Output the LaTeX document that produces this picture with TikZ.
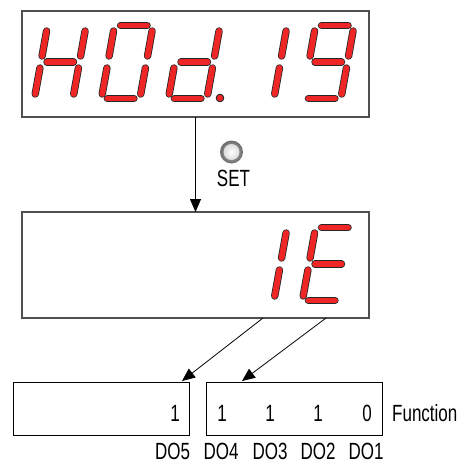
\documentclass[tikz,border=0pt]{standalone}
\usepackage{graphicx}
\usepackage{fontspec}
\setmainfont{Liberation Sans}
\usetikzlibrary{arrows.meta}
\definecolor{segred}{RGB}{238,38,38}
\definecolor{boxgray}{RGB}{80,80,80}
\newcommand\tx[1]{\scalebox{1}[1.38]{#1}}
\newcommand\sgl[2]{\draw[segout] #1 -- #2; \draw[segin] #1 -- #2;}
% segments: X = left column x at middle line, Y = middle line y
\newcommand\sgA[2]{\sgl{(#1+12.57,#2-36.5)}{(#1+39.07,#2-36.5)}}
\newcommand\sgG[2]{\sgl{(#1+6,#2)}{(#1+32.5,#2)}}
\newcommand\sgD[2]{\sgl{(#1-0.57,#2+36.5)}{(#1+25.93,#2+36.5)}}
\newcommand\sgF[2]{\sgl{(#1+5.58,#2-31)}{(#1+1.08,#2-6)}}
\newcommand\sgE[2]{\sgl{(#1-1.08,#2+6)}{(#1-5.76,#2+32)}}
\newcommand\sgB[2]{\sgl{(#1+44.08,#2-31)}{(#1+39.58,#2-6)}}
\newcommand\sgC[2]{\sgl{(#1+37.42,#2+6)}{(#1+32.74,#2+32)}}
\begin{document}
\begin{tikzpicture}[x=1pt,y=-1pt,
  segout/.style={line width=7.4pt,line cap=round,draw=black!85},
  segin/.style={line width=5.8pt,line cap=round,draw=segred},
  display/.style={draw=boxgray,line width=1.1pt,inner sep=0pt,outer sep=0pt,minimum width=347pt,minimum height=106pt},
  bitbox/.style={draw=black,line width=0.8pt,inner sep=0pt,outer sep=0pt,minimum width=176pt,minimum height=53pt},
  lbl/.style={inner sep=0pt,font=\fontsize{17}{20}\selectfont},
  arr/.style={-{Triangle[width=11pt,length=13pt]},line width=0.8pt}]
\useasboundingbox (0,0) rectangle (465,466);
% boxes
\node[display] (top) at (195.5,64) {};
\node[display] (mid) at (195.5,265) {};
\node[bitbox] (bl) at (101,408.5) {};
\node[bitbox] (br) at (294,408.5) {};
% top display: H 0 d. 1 9
\sgB{41}{62}\sgC{41}{62}\sgE{41}{62}\sgF{41}{62}\sgG{41}{62}
\sgA{108}{62}\sgB{108}{62}\sgC{108}{62}\sgD{108}{62}\sgE{108}{62}\sgF{108}{62}
\sgB{175}{62}\sgC{175}{62}\sgD{175}{62}\sgE{175}{62}\sgG{175}{62}
\filldraw[fill=segred,draw=black!85,line width=0.9pt] (220,98) circle (3.8pt);
\sgB{242}{62}\sgC{242}{62}
\sgA{309}{62}\sgB{309}{62}\sgC{309}{62}\sgD{309}{62}\sgF{309}{62}\sgG{309}{62}
% middle display: 1E
\sgB{242}{264}\sgC{242}{264}
\sgA{309}{264}\sgD{309}{264}\sgE{309}{264}\sgF{309}{264}\sgG{309}{264}
% SET button
\shade[inner color=black!25,outer color=black!58] (231.5,152) circle (11.5pt);
\shade[inner color=white,outer color=black!14] (231.5,152) circle (8pt);
\node[lbl] (set) at (233.5,178.5) {\tx{SET}};
% arrows
\draw[arr] (top.south) -- (mid.north);
\coordinate (s1) at (263,318);
\coordinate (t1) at (182,381);
\coordinate (s2) at (326,318);
\coordinate (t2) at (242,381);
\draw[arr] (s1) -- (t1);
\draw[arr] (s2) -- (t2);
% bits
\node[lbl] (b5) at (175,413) {\tx{1}};
\node[lbl] (b4) at (222,413) {\tx{1}};
\node[lbl] (b3) at (270,413) {\tx{1}};
\node[lbl] (b2) at (318,413) {\tx{1}};
\node[lbl] (b1) at (367,413) {\tx{0}};
\node[lbl,anchor=west] (fn) at (392,413) {\tx{Function}};
\node[lbl] (d5) at (172.5,451) {\tx{DO5}};
\node[lbl] (d4) at (221,451) {\tx{DO4}};
\node[lbl] (d3) at (270,451) {\tx{DO3}};
\node[lbl] (d2) at (318,451) {\tx{DO2}};
\node[lbl] (d1) at (366,451) {\tx{DO1}};
\end{tikzpicture}
\end{document}
